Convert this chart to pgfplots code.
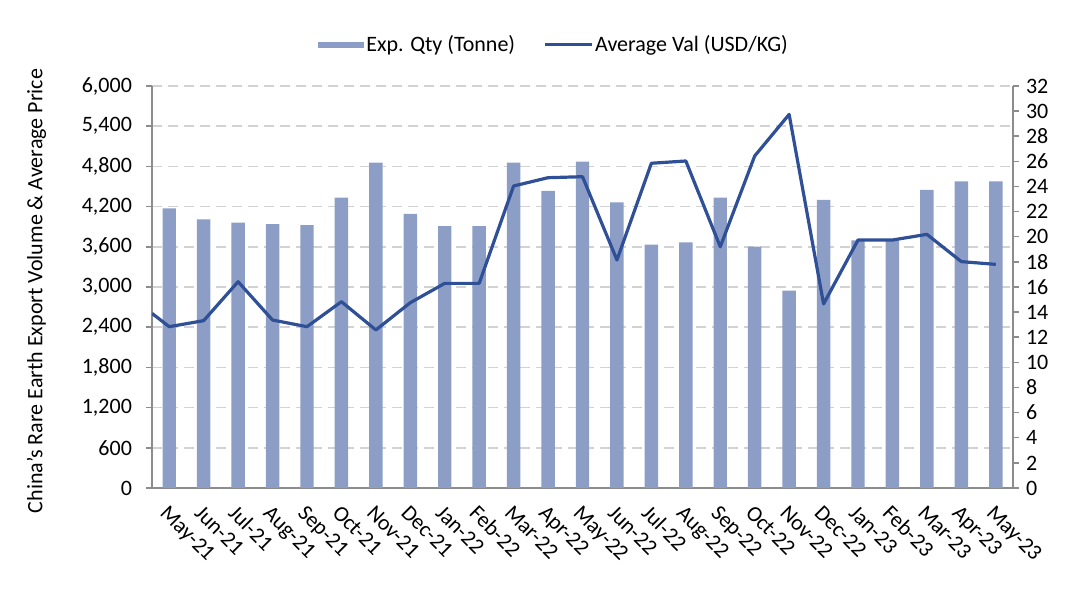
\documentclass[border=0pt]{standalone}
\usepackage{pgfplots}
\pgfplotsset{compat=1.18}
\usepackage{fontspec}
\setmainfont{Carlito}
\definecolor{barcol}{RGB}{140,158,198}
\definecolor{linecol}{RGB}{47,80,150}
\definecolor{axcol}{RGB}{140,140,140}
\definecolor{gridcol}{RGB}{210,210,210}
\begin{document}
\begin{tikzpicture}
\useasboundingbox (-76pt,-57.5pt) rectangle (468pt,244pt);
\begin{axis}[
  scale only axis, width=430.5pt, height=201pt,
  xmin=-0.5, xmax=24.5, ymin=0, ymax=6000,
  axis x line*=bottom, axis y line*=left,
  axis line style={axcol, line width=0.75pt},
  every tick/.style={axcol, line width=0.75pt},
  tick align=outside, major tick length=3pt, minor tick length=3pt,
  xtick={0,...,24},
  xticklabels={May-21,Jun-21,Jul-21,Aug-21,Sep-21,Oct-21,Nov-21,Dec-21,Jan-22,Feb-22,Mar-22,Apr-22,May-22,Jun-22,Jul-22,Aug-22,Sep-22,Oct-22,Nov-22,Dec-22,Jan-23,Feb-23,Mar-23,Apr-23,May-23},
  x tick style={draw=none},
  minor xtick={-0.5,0.5,...,24.5},
  minor x tick style={axcol, line width=0.75pt},
  xticklabel style={rotate=-45, anchor=north west, font=\fontsize{11}{13}\selectfont},
  ytick={0,600,...,6000},
  yticklabel style={font=\fontsize{11}{13}\selectfont, xshift=-3.5pt},
  /pgf/number format/assume math mode=true,
  /pgf/number format/.cd, 1000 sep={,},
  /pgfplots/.cd,
  ymajorgrids, grid style={gridcol, dash pattern=on 5pt off 3pt, line width=0.75pt},
  ylabel={China's Rare Earth Export Volume \& Average Price},
  ylabel style={at={(axis description cs:-0.134,0.49)}, anchor=center, rotate=0, font=\fontsize{11}{13}\selectfont},
  legend style={at={(axis description cs:0.467,1.102)}, anchor=center, draw=none, fill=none, legend columns=2, font=\fontsize{11}{13}\selectfont, nodes={inner sep=1pt}, /tikz/every even column/.append style={column sep=13pt}},
]
\addplot[ybar, bar width=0.39, fill=barcol, draw=none, legend image code/.code={\fill[barcol] (0pt,-1.3pt) rectangle (23pt,1.3pt);}] coordinates {
(0,4175) (1,4010) (2,3960) (3,3940) (4,3925) (5,4333) (6,4855) (7,4090) (8,3910) (9,3910)
(10,4855) (11,4433) (12,4870) (13,4264) (14,3632) (15,3667) (16,4333) (17,3602) (18,2945)
(19,4299) (20,3696) (21,3696) (22,4448) (23,4577) (24,4577)};
\addlegendentry{Exp. Qty (Tonne)}
\addlegendimage{linecol, line width=1.5pt, legend image code/.code={\draw[linecol, line width=1.5pt] (0pt,0pt) -- (23.5pt,0pt);}}
\addlegendentry{Average Val (USD/KG)}
\end{axis}
\begin{axis}[
  scale only axis, width=430.5pt, height=201pt,
  xmin=-0.5, xmax=24.5, ymin=0, ymax=32,
  axis x line=none, axis y line*=right,
  axis line style={axcol, line width=0.75pt},
  every tick/.style={axcol, line width=0.75pt},
  tick align=outside, major tick length=3pt,
  ytick={0,2,...,32},
  yticklabel style={font=\fontsize{11}{13}\selectfont},
  /pgf/number format/assume math mode=true,
]
\addplot[linecol, line width=1.6pt, line join=round] coordinates {
(-0.5,13.9) (0,12.84) (1,13.32) (2,16.42) (3,13.37) (4,12.84) (5,14.83) (6,12.58) (7,14.75)
(8,16.29) (9,16.29) (10,24.04) (11,24.7) (12,24.78) (13,18.15) (14,25.85) (15,26.03)
(16,19.2) (17,26.43) (18,29.74) (19,14.65) (20,19.74) (21,19.74) (22,20.19) (23,18.02) (24,17.8)};
\end{axis}
\end{tikzpicture}
\end{document}
